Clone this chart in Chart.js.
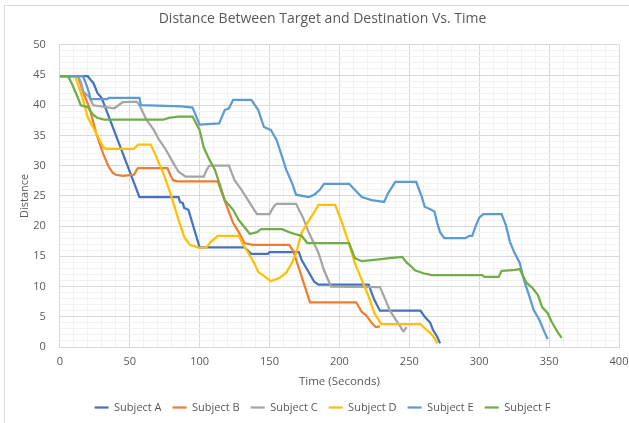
<!DOCTYPE html>
<html>
<head>
<meta charset="utf-8">
<script src="https://cdn.jsdelivr.net/npm/chart.js@4.4.1/dist/chart.umd.min.js"></script>
<style>
  html, body { margin: 0; padding: 0; background: #fff; }
  #wrap { position: relative; width: 629px; height: 423px; overflow: hidden; }
  #frame { position: absolute; left: 4px; top: 5px; width: 700px; height: 500px; border: 1px solid #d9d9d9; }
  canvas { position: absolute; left: 0; top: 0; }
</style>
</head>
<body>
<div id="wrap">
  <div id="frame"></div>
  <canvas id="chart" width="629" height="423"></canvas>
</div>
<script>
/* ── Data ──────────────────────────────────────────────────── */
const SERIES_NAMES = ['Subject A', 'Subject B', 'Subject C', 'Subject D', 'Subject E', 'Subject F'];

const aTime = [0, 20, 22, 24, 27, 30, 57, 85, 86, 88, 89, 92, 100, 132, 137, 149, 150, 171, 173, 178, 182, 185, 221, 223, 225, 229, 258, 261, 265, 267, 270, 272];
const aDist = [44.8, 44.8, 44.2, 43.7, 42, 41.2, 24.8, 24.8, 24, 23.8, 23, 22.7, 16.5, 16.5, 15.4, 15.4, 15.7, 15.7, 14.4, 12.4, 10.8, 10.3, 10.3, 9, 7.8, 6, 6, 5, 4, 2.8, 1.7, 0.6];

const bTime = [0, 13, 17, 21, 26, 28, 31, 35, 38, 40, 45, 53, 55, 56, 77, 79, 81, 84, 113, 117, 124, 128, 132, 138, 164, 167, 179, 212, 216, 219, 223, 226, 229];
const bDist = [44.8, 44.8, 42, 39.7, 35.4, 34, 32, 29.8, 28.8, 28.5, 28.3, 28.5, 29.3, 29.6, 29.6, 28.5, 27.6, 27.4, 27.4, 24.8, 20.5, 19, 17.2, 16.9, 16.9, 15.9, 7.4, 7.4, 5.8, 5.3, 4, 3.3, 3.4];

const cTime = [0, 13, 15, 17, 21, 24, 39, 45, 55, 57, 62, 67, 71, 76, 81, 85, 90, 103, 105, 107, 121, 125, 130, 136, 141, 150, 153, 155, 169, 174, 178, 185, 189, 194, 229, 233, 236, 239, 243, 245, 246, 248];
const cDist = [44.8, 44.8, 43.9, 42.2, 41.4, 40, 39.5, 40.5, 40.6, 40, 37.6, 36, 34.3, 32.6, 30.5, 29, 28.2, 28.2, 29.3, 30, 30, 27.6, 26, 23.8, 22, 22, 23.2, 23.7, 23.7, 21.4, 19, 15.6, 12.7, 10, 9.9, 7.8, 6.1, 5, 3.6, 2.8, 2.6, 3.3];

const dTime = [0, 11, 16, 20, 26, 31, 33, 53, 56, 65, 69, 75, 80, 85, 89, 93, 100, 105, 108, 113, 128, 131, 135, 139, 142, 147, 151, 157, 162, 166, 169, 173, 177, 182, 185, 197, 202, 206, 211, 216, 221, 225, 230, 258, 261, 265, 268, 270];
const dDist = [44.8, 44.8, 41.4, 38, 35.4, 33.1, 32.8, 32.8, 33.5, 33.5, 31.5, 28.2, 24.8, 21, 18.2, 16.9, 16.4, 16.5, 17.4, 18.4, 18.4, 17, 15.5, 13.9, 12.4, 11.6, 10.9, 11.4, 12.3, 13.9, 15.5, 18.9, 20.5, 22.3, 23.5, 23.5, 20.5, 17.7, 13.9, 11.1, 8.3, 5.6, 3.8, 3.8, 3.1, 2.3, 1.5, 0.6];

const eTime = [0, 16.5, 19, 21, 22, 34, 35, 57, 58, 87, 95, 100, 114, 118, 121, 124, 137, 142, 146, 151, 155, 159, 162, 166, 169, 178, 182, 186, 189, 207, 211, 216, 223, 232, 235, 240, 255, 259, 261, 265, 268, 270, 272, 275, 290, 293, 295, 297, 300, 303, 316, 319, 322, 325, 329, 332, 336, 339, 343, 347, 349];
const eDist = [44.8, 44.8, 43.4, 42, 41, 41, 41.2, 41.2, 40, 39.8, 39.6, 36.8, 37, 39.2, 39.5, 40.9, 40.9, 39.2, 36.4, 35.9, 34.3, 31.5, 29.3, 27.2, 25.2, 24.8, 25.2, 26, 27, 27, 26, 24.8, 24.3, 24, 25.5, 27.3, 27.3, 24.8, 23.2, 22.8, 22.4, 20.5, 19, 18, 18, 18.4, 18.4, 19.7, 21.4, 22, 22, 20.2, 17.4, 15.7, 13.9, 11.1, 8.3, 6.1, 4.5, 2.3, 1.3];

const fTime = [0, 6, 9, 13, 15, 20, 24, 27, 32, 74, 78, 85, 95, 100, 103, 107, 111, 114, 118, 124, 128, 136, 141, 144, 159, 164, 168, 173, 177, 207, 211, 216, 225, 236, 245, 248, 252, 254, 260, 266, 302, 304, 314, 316, 324, 329, 331, 334, 338, 342, 345, 349, 352, 356, 359];
const fDist = [44.8, 44.8, 43.4, 41.2, 40, 39.7, 38.4, 37.9, 37.6, 37.6, 37.9, 38.1, 38.1, 35.9, 33, 31, 29.3, 27.2, 24.3, 22.7, 21, 18.7, 19, 19.5, 19.5, 19, 18.7, 18.4, 17.2, 17.2, 14.7, 14.2, 14.4, 14.7, 14.9, 14, 13.2, 12.7, 12.2, 11.9, 11.9, 11.6, 11.6, 12.6, 12.7, 12.9, 11.9, 10.6, 9.8, 8.6, 6.6, 5.6, 4.1, 2.5, 1.5];

const SERIES_TIMES = [aTime, bTime, cTime, dTime, eTime, fTime];
const SERIES_DISTS = [aDist, bDist, cDist, dDist, eDist, fDist];
const SERIES_COLORS = ['#4472C4', '#ED7D31', '#A5A5A5', '#FFC000', '#5B9BD5', '#70AD47'];

const X_MAX = 400, X_MAJOR = 50, X_MINOR = 10;
const Y_MAX = 50,  Y_MAJOR = 5,  Y_MINOR = 1;

/* ── Chart ─────────────────────────────────────────────────── */
const FONT = "'Open Sans', 'Liberation Sans', sans-serif";
const TXT  = '#595959';

function _points(times, dists) {
  return times.map((t, i) => ({ x: t, y: dists[i] }));
}

const datasets = SERIES_NAMES.map((name, i) => ({
  label:           name,
  data:            _points(SERIES_TIMES[i], SERIES_DISTS[i]),
  borderColor:     SERIES_COLORS[i],
  backgroundColor: SERIES_COLORS[i],
  borderWidth:     2.25,
  pointRadius:     0,
  tension:         0,
  order:           SERIES_NAMES.length - i,   // later series on top, like Excel
}));

function _gridColor(major) {
  return ctx => (ctx.tick && ctx.tick.value % major === 0) ? '#d9d9d9' : '#f2f2f2';
}

new Chart(document.getElementById('chart'), {
  type: 'line',
  data: { datasets },
  options: {
    responsive: false,
    animation: false,
    layout: { padding: { top: 6, right: 2, bottom: 0, left: 18 } },
    plugins: {
      title: {
        display: true,
        text: 'Distance Between Target and Destination Vs. Time',
        color: TXT,
        font: { family: FONT, size: 14, weight: 'normal' },
        padding: { top: 5, bottom: 17 },
      },
      legend: {
        position: 'bottom',
        labels: {
          color: TXT,
          font: { family: FONT, size: 11 },
          usePointStyle: true,
          pointStyle: 'line',
          pointStyleWidth: 14,
          padding: 11,
          sort: (a, b) => a.datasetIndex - b.datasetIndex,
        },
      },
      tooltip: { enabled: false },
    },
    scales: {
      x: {
        type: 'linear',
        min: 0,
        max: X_MAX,
        grid: { color: _gridColor(X_MAJOR), drawTicks: false },
        border: { color: '#d9d9d9' },
        afterFit: s => { s.paddingRight = 10; },   // "400" sits at the right edge
        ticks: {
          stepSize: X_MINOR,
          autoSkip: false,
          maxRotation: 0,
          padding: 8,
          color: TXT,
          font: { family: FONT, size: 11 },
          callback: v => (v % X_MAJOR === 0 ? v : ''),
        },
        title: {
          display: true,
          text: 'Time (Seconds)',
          color: TXT,
          font: { family: FONT, size: 11.5 },
          padding: { top: -1, bottom: 2 },
        },
      },
      y: {
        min: 0,
        max: Y_MAX,
        grid: { color: _gridColor(Y_MAJOR), drawTicks: false },
        border: { color: '#d9d9d9' },
        ticks: {
          stepSize: Y_MINOR,
          autoSkip: false,
          padding: 14,
          color: TXT,
          font: { family: FONT, size: 11 },
          callback: v => (v % Y_MAJOR === 0 ? v : ''),
        },
        title: {
          display: true,
          text: 'Distance',
          color: TXT,
          font: { family: FONT, size: 11 },
          padding: { top: 0, bottom: -12 },
        },
      },
    },
  },
});
</script>
</body>
</html>
